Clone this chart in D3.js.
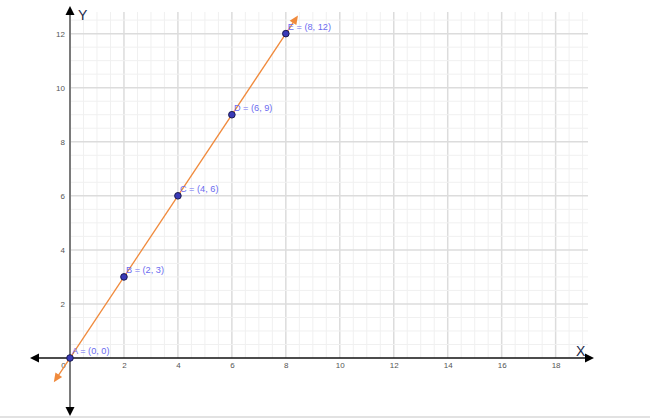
<!DOCTYPE html>
<html>
<head>
<meta charset="utf-8">
<script src="https://cdn.jsdelivr.net/npm/d3@7"></script>
<style>
  html, body { margin: 0; padding: 0; background: #fff; }
  svg { display: block; }
</style>
</head>
<body>
<script>
// ---- data ----
const pointNames = ["A", "B", "C", "D", "E"];
const pointX = [0, 2, 4, 6, 8];
const pointY = [0, 3, 6, 9, 12];
const xTickValues = [0, 2, 4, 6, 8, 10, 12, 14, 16, 18];
const yTickValues = [2, 4, 6, 8, 10, 12];
const lineExtentX = [-0.6, 8.45];   // drawn extent of the line y = 1.5x
const lineSlope = 1.5;

const W = 650, H = 419;
const svg = d3.select("body").append("svg").attr("width", W).attr("height", H);

const x = d3.scaleLinear().domain([0, 19.2]).range([70, 588]);
const y = d3.scaleLinear().domain([0, 12.8]).range([358, 12]);

// bottom page border
svg.append("rect").attr("x", 0).attr("y", 416).attr("width", W).attr("height", 2).attr("fill", "#e2e2e2");

// grid
const grid = svg.append("g");
const minorX = d3.range(0.5, 19.2 + 1e-9, 0.5);
const minorY = d3.range(0.5, 12.8 + 1e-9, 0.5);
grid.selectAll(".vx").data(minorX).join("line")
  .attr("x1", d => x(d)).attr("x2", d => x(d))
  .attr("y1", y(0)).attr("y2", y(12.8))
  .attr("stroke", d => (d % 2 === 0) ? "#dcdcdc" : "#f0f0f0")
  .attr("stroke-width", d => (d % 2 === 0) ? 1.5 : 1);
grid.selectAll(".hy").data(minorY).join("line")
  .attr("y1", d => y(d)).attr("y2", d => y(d))
  .attr("x1", x(0)).attr("x2", x(19.2))
  .attr("stroke", d => (d % 2 === 0) ? "#dcdcdc" : "#f0f0f0")
  .attr("stroke-width", d => (d % 2 === 0) ? 1.5 : 1);

// x axis
const xAxis = svg.append("g").attr("transform", `translate(0,${y(0)})`)
  .call(d3.axisBottom(x).tickValues(xTickValues).tickSize(0).tickPadding(4));
xAxis.select(".domain").remove();
xAxis.selectAll("text").attr("font-family", "Liberation Sans, Arial, sans-serif")
  .attr("font-size", 8).attr("fill", "#555")
  .attr("dx", d => d === 0 ? -7 : 0);
svg.append("line").attr("x1", 38).attr("x2", 586).attr("y1", y(0)).attr("y2", y(0))
  .attr("stroke", "#111").attr("stroke-width", 1.6);
svg.append("path").attr("d", `M${594},${y(0)} L${585},${y(0) - 4.5} L${585},${y(0) + 4.5} Z`).attr("fill", "#000");
svg.append("path").attr("d", `M${30},${y(0)} L${39},${y(0) - 4.5} L${39},${y(0) + 4.5} Z`).attr("fill", "#000");

// y axis
const yAxis = svg.append("g").attr("transform", `translate(${x(0)},0)`)
  .call(d3.axisLeft(y).tickValues(yTickValues).tickSize(0).tickPadding(5));
yAxis.select(".domain").remove();
yAxis.selectAll("text").attr("font-family", "Liberation Sans, Arial, sans-serif")
  .attr("font-size", 8).attr("fill", "#555");
svg.append("line").attr("x1", x(0)).attr("x2", x(0)).attr("y1", 14).attr("y2", 408)
  .attr("stroke", "#7a7a7a").attr("stroke-width", 2);
svg.append("path").attr("d", `M${x(0)},6 L${x(0) - 4.5},15 L${x(0) + 4.5},15 Z`).attr("fill", "#000");
svg.append("path").attr("d", `M${x(0)},416 L${x(0) - 4.5},407 L${x(0) + 4.5},407 Z`).attr("fill", "#000");

// axis names
svg.append("text").attr("x", 78).attr("y", 20).text("Y")
  .attr("font-family", "Liberation Sans, Arial, sans-serif").attr("font-size", 14).attr("fill", "#1a2a4a");
svg.append("text").attr("x", 576).attr("y", 356).text("X")
  .attr("font-family", "Liberation Sans, Arial, sans-serif").attr("font-size", 14).attr("fill", "#1a2a4a");

// line with arrowheads
const orange = "#f08a3c";
const x0 = lineExtentX[0], x1 = lineExtentX[1];
const p0 = [x(x0), y(lineSlope * x0)], p1 = [x(x1), y(lineSlope * x1)];
const dx = p1[0] - p0[0], dy = p1[1] - p0[1];
const len = Math.hypot(dx, dy), ux = dx / len, uy = dy / len;
const ah = 9, aw = 4;
svg.append("line")
  .attr("x1", p0[0] + ux * ah * 0.8).attr("y1", p0[1] + uy * ah * 0.8)
  .attr("x2", p1[0] - ux * ah * 0.8).attr("y2", p1[1] - uy * ah * 0.8)
  .attr("stroke", orange).attr("stroke-width", 1.3);
function arrow(tip, dirx, diry) {
  const bx = tip[0] - dirx * ah, by = tip[1] - diry * ah;
  return `M${tip[0]},${tip[1]} L${bx - diry * aw},${by + dirx * aw} L${bx + diry * aw},${by - dirx * aw} Z`;
}
svg.append("path").attr("d", arrow(p1, ux, uy)).attr("fill", orange);
svg.append("path").attr("d", arrow(p0, -ux, -uy)).attr("fill", orange);

// points
const pts = pointNames.map((n, i) => ({ n, x: pointX[i], y: pointY[i] }));
svg.selectAll(".pt").data(pts).join("circle")
  .attr("cx", d => x(d.x)).attr("cy", d => y(d.y)).attr("r", 3.3)
  .attr("fill", "#3a3ab8").attr("stroke", "#1a1a50").attr("stroke-width", 1);
svg.selectAll(".lbl").data(pts).join("text")
  .attr("x", d => x(d.x) + 2).attr("y", d => y(d.y) - 4)
  .text(d => `${d.n} = (${d.x}, ${d.y})`)
  .attr("font-family", "Liberation Sans, Arial, sans-serif").attr("font-size", 9.2)
  .attr("fill", "#6b6bf0");
</script>
</body>
</html>
